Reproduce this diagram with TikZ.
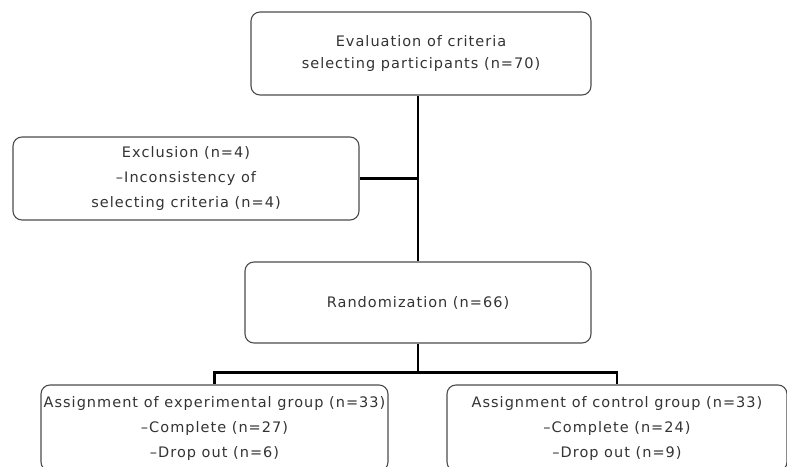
\documentclass[tikz,border=0pt]{standalone}
\usepackage{fontspec}
\setmainfont[LetterSpace=7]{DejaVu Sans}
\usepackage{tikz}
\usetikzlibrary{positioning}

\begin{document}
\begin{tikzpicture}[
  x=1pt, y=1pt,
  box/.style={draw=black!70, line width=1.1pt, rounded corners=9pt, align=center, inner sep=0pt, text=black!80, font=\fontsize{14.5}{25}\selectfont},
  conn/.style={line width=2.4pt, black}
]
  \useasboundingbox (0,0) rectangle (787,466);

  \node[box, minimum width=340, minimum height=83] (eval) at (421,412.5) {Evaluation of criteria\\[-3pt]selecting participants (n=70)};
  \node[box, minimum width=346, minimum height=83] (excl) at (186,287.5) {Exclusion (n=4)\\\textendash Inconsistency of\\selecting criteria (n=4)};
  \node[box, minimum width=346, minimum height=81] (rand) at (418,163.5) {Randomization (n=66)};
  \node[box, minimum width=347, minimum height=86] (expt) at (214.5,38) {Assignment of experimental group (n=33)\\\textendash Complete (n=27)\\\textendash Drop out (n=6)};
  \node[box, minimum width=340, minimum height=86] (ctrl) at (617,38) {Assignment of control group (n=33)\\\textendash Complete (n=24)\\\textendash Drop out (n=9)};

  \coordinate (split) at ([yshift=-29pt]rand.south);

  \draw[conn] (eval.south -| rand.north) -- (rand.north);
  \draw[conn] (excl.east) -- (excl.east -| rand.north);
  \draw[conn] (rand.south) -- (split);
  \draw[conn] (expt.north) |- (split) -| (ctrl.north);
\end{tikzpicture}
\end{document}
